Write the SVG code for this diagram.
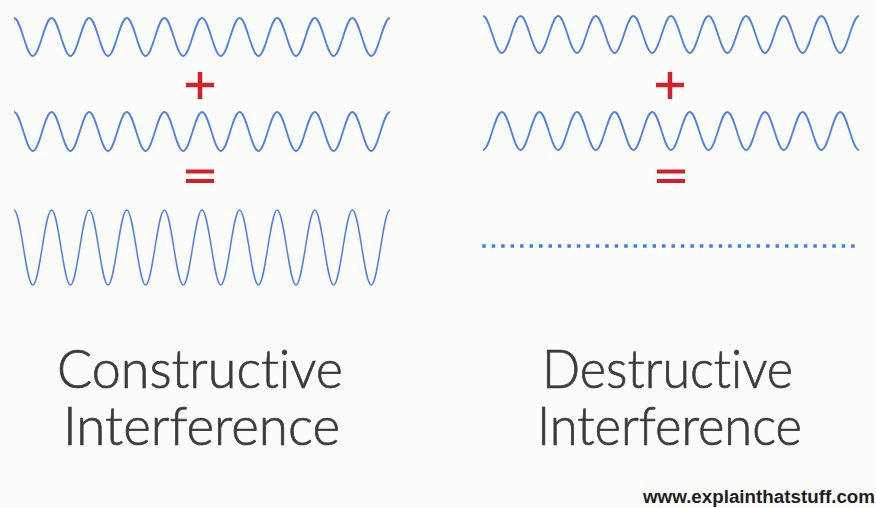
<svg xmlns="http://www.w3.org/2000/svg" width="876" height="508" viewBox="0 0 876 508">
<style>
.wave{fill:none;stroke:#4a80ec;stroke-width:1.8;stroke-linejoin:round}
.big{stroke-width:1.5}
.op{fill:none;stroke:#d3202c;stroke-width:4.5}
.title{font-family:Lato,"Open Sans","DejaVu Sans",sans-serif;font-size:54px;font-weight:300;fill:#3b3b3b;stroke:#3b3b3b;stroke-width:0.7;font-variant-ligatures:none}
.url{font-family:"Liberation Sans",Arial,sans-serif;font-weight:bold;font-size:17.5px;fill:#1e1e1e}
</style>
<rect width="876" height="508" fill="#fcfcfa"/>
<g id="constructive">
<g id="c-wave1"><path class="wave" d="M14,18 c6.85,0 11.95,38 18.8,38 s11.950,-38 18.8,-38 s11.95,38 18.8,38 s11.95,-38 18.8,-38 s11.95,38 18.8,38 s11.95,-38 18.8,-38 s11.95,38 18.8,38 s11.95,-38 18.8,-38 s11.95,38 18.8,38 s11.95,-38 18.8,-38 s11.95,38 18.8,38 s11.95,-38 18.8,-38 s11.95,38 18.8,38 s11.95,-38 18.8,-38 s11.95,38 18.8,38 s11.95,-38 18.8,-38 s11.95,38 18.8,38 s11.95,-38 18.8,-38 s11.95,38 18.8,38 s11.95,-38 18.8,-38"/></g>
<g id="c-plus"><path class="op" d="M186,85 H214 M200,72 V99"/></g>
<g id="c-wave2"><path class="wave" d="M14,112 c6.85,0 11.95,39 18.8,39 s11.95,-39 18.8,-39 s11.95,39 18.8,39 s11.95,-39 18.8,-39 s11.95,39 18.8,39 s11.95,-39 18.8,-39 s11.95,39 18.8,39 s11.95,-39 18.8,-39 s11.95,39 18.8,39 s11.95,-39 18.8,-39 s11.95,39 18.8,39 s11.95,-39 18.8,-39 s11.95,39 18.8,39 s11.95,-39 18.8,-39 s11.95,39 18.8,39 s11.95,-39 18.8,-39 s11.95,39 18.8,39 s11.95,-39 18.8,-39 s11.95,39 18.8,39 s11.95,-39 18.8,-39"/></g>
<g id="c-equals"><path class="op" style="stroke-width:4" d="M186,171.5 H214 M186,181 H214"/></g>
<g id="c-result"><path class="wave big" d="M14,210 c6.85,0 11.95,75 18.8,75 s11.95,-75 18.8,-75 s11.95,75 18.8,75 s11.95,-75 18.8,-75 s11.95,75 18.8,75 s11.95,-75 18.8,-75 s11.95,75 18.8,75 s11.95,-75 18.8,-75 s11.95,75 18.8,75 s11.95,-75 18.8,-75 s11.95,75 18.8,75 s11.95,-75 18.8,-75 s11.95,75 18.8,75 s11.95,-75 18.8,-75 s11.95,75 18.8,75 s11.95,-75 18.8,-75 s11.95,75 18.8,75 s11.95,-75 18.8,-75 s11.95,75 18.8,75 s11.95,-75 18.8,-75"/></g>
<g id="c-label">
<text class="title"><tspan x="57" y="387.5" textLength="286" lengthAdjust="spacingAndGlyphs">Constructive</tspan><tspan x="63" y="445" textLength="277" lengthAdjust="spacingAndGlyphs">Interference</tspan></text>
</g>
</g>
<g id="destructive">
<g id="d-wave1"><path class="wave" d="M483,16 c6.85,0 11.95,37 18.8,37 s11.95,-37 18.8,-37 s11.95,37 18.8,37 s11.95,-37 18.8,-37 s11.95,37 18.8,37 s11.95,-37 18.8,-37 s11.95,37 18.8,37 s11.95,-37 18.8,-37 s11.95,37 18.8,37 s11.95,-37 18.8,-37 s11.95,37 18.8,37 s11.95,-37 18.8,-37 s11.95,37 18.8,37 s11.95,-37 18.8,-37 s11.95,37 18.8,37 s11.95,-37 18.8,-37 s11.95,37 18.8,37 s11.95,-37 18.8,-37 s11.95,37 18.8,37 s11.95,-37 18.8,-37"/></g>
<g id="d-plus"><path class="op" d="M656,85 H684 M670,72 V99"/></g>
<g id="d-wave2"><path class="wave" d="M483,150 c6.85,0 11.95,-38 18.8,-38 s11.95,38 18.8,38 s11.95,-38 18.8,-38 s11.95,38 18.8,38 s11.95,-38 18.8,-38 s11.95,38 18.8,38 s11.95,-38 18.8,-38 s11.95,38 18.8,38 s11.95,-38 18.8,-38 s11.95,38 18.8,38 s11.95,-38 18.8,-38 s11.95,38 18.8,38 s11.95,-38 18.8,-38 s11.95,38 18.8,38 s11.95,-38 18.8,-38 s11.95,38 18.8,38 s11.95,-38 18.8,-38 s11.95,38 18.8,38 s11.95,-38 18.8,-38 s11.95,38 18.8,38"/></g>
<g id="d-equals"><path class="op" style="stroke-width:4" d="M657,171.5 H685 M657,181 H685"/></g>
<g id="d-result"><line x1="482.25" y1="246" x2="854.8" y2="246" stroke="#3f7cf0" stroke-width="3.5" stroke-dasharray="3.5 5.96"/></g>
<g id="d-label">
<text class="title"><tspan x="542" y="387.5" textLength="251" lengthAdjust="spacingAndGlyphs">Destructive</tspan><tspan x="537" y="445" textLength="265" lengthAdjust="spacingAndGlyphs">Interference</tspan></text>
</g>
</g>
<g id="credit"><text class="url" x="643" y="503" textLength="232" lengthAdjust="spacingAndGlyphs">www.explainthatstuff.com</text></g>
</svg>
